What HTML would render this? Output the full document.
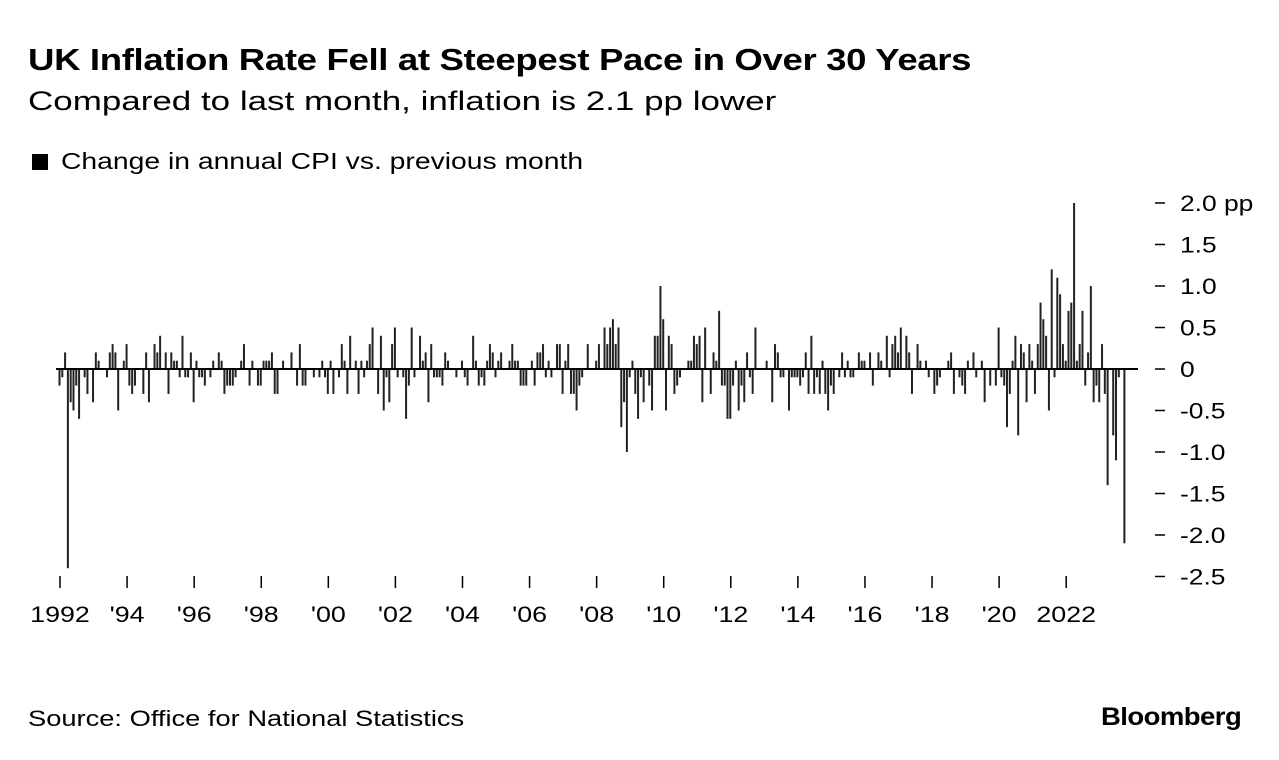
<!DOCTYPE html>
<html><head><meta charset="utf-8"><style>
body{margin:0;background:#fff;font-family:"Liberation Sans",sans-serif;color:#000}
#c{position:relative;width:1279px;height:760px;overflow:hidden}
.t{position:absolute;white-space:nowrap;transform-origin:0 0}
</style></head><body>
<div id="c">
<div class="t" style="left:28px;top:42px;font-size:31px;font-weight:bold;letter-spacing:-0.3px;transform:scaleX(1.18)">UK Inflation Rate Fell at Steepest Pace in Over 30 Years</div>
<div class="t" style="left:28px;top:86px;font-size:27px;transform:scaleX(1.295)">Compared to last month, inflation is 2.1 pp lower</div>
<div class="t" style="left:32px;top:148px;font-size:23px"><span style="display:inline-block;width:16px;height:16px;background:#000;margin-right:13px;vertical-align:-1px"></span><span style="display:inline-block;transform:scaleX(1.23);transform-origin:0 0">Change in annual CPI vs. previous month</span></div>
<svg id="s" width="1279" height="760" style="position:absolute;left:0;top:0"></svg>
<div class="t" style="left:28px;top:706px;font-size:22px;transform:scaleX(1.24)">Source: Office for National Statistics</div>
<div class="t" style="left:1101px;top:703px;font-size:25px;font-weight:bold;letter-spacing:-0.5px;transform:scaleX(1.1)">Bloomberg</div>
</div>
<script>
const startYear = 1992;
const values = [
-.2,-.1,.2,-2.4,-.4,-.5,-.2,-.6,0,-.1,-.3,0,
-.4,.2,.1,0,0,-.1,.2,.3,.2,-.5,0,.1,
.3,-.2,-.3,-.2,0,0,-.3,.2,-.4,0,.3,.2,
.4,0,.2,-.3,.2,.1,.1,-.1,.4,-.1,-.1,.2,
-.4,.1,-.1,-.1,-.2,0,-.1,.1,0,.2,.1,-.3,
-.2,-.2,-.2,-.1,0,.1,.3,0,-.2,.1,0,-.2,
-.2,.1,.1,.1,.2,-.3,-.3,0,.1,0,0,.2,
0,-.2,.3,-.2,-.2,0,0,-.1,0,-.1,.1,-.1,
-.3,.1,-.3,0,-.1,.3,.1,-.3,.4,0,.1,-.3,
.1,-.1,.1,.3,.5,0,-.3,.4,-.5,-.1,-.4,.3,
.5,-.1,0,-.1,-.6,-.2,.5,-.1,0,.4,.1,.2,
-.4,.3,-.1,-.1,-.1,-.2,.2,.1,0,0,-.1,0,
.1,-.1,-.2,0,.4,.1,-.2,-.1,-.2,.1,.3,.2,
-.1,.1,.2,0,0,.1,.3,.1,.1,-.2,-.2,-.2,
0,.1,-.2,.2,.2,.3,-.1,.1,-.1,0,.3,.3,
-.3,.1,.3,-.3,-.3,-.5,-.2,-.1,0,.3,0,0,
.1,.3,0,.5,.3,.5,.6,.3,.5,-.7,-.4,-1.0,
-.1,.1,-.3,-.6,-.1,-.4,0,-.2,-.5,.4,.4,1.0,
.6,-.5,.4,.3,-.3,-.2,-.1,0,0,.1,.1,.4,
.3,.4,-.4,.5,0,-.3,.2,.1,.7,-.2,-.2,-.6,
-.6,-.2,.1,-.5,-.2,-.4,.2,-.1,-.3,.5,0,0,
0,.1,0,-.4,.3,.2,-.1,-.1,0,-.5,-.1,-.1,
-.1,-.2,-.1,.2,-.3,.4,-.3,-.1,-.3,.1,-.3,-.5,
-.2,-.3,0,-.1,.2,-.1,.1,-.1,-.1,0,.2,.1,
.1,0,.2,-.2,0,.2,.1,0,.4,-.1,.3,.4,
.2,.5,0,.4,.2,-.3,0,.3,.1,0,.1,-.1,
0,-.3,-.2,-.1,0,0,.1,.2,-.3,0,-.1,-.2,
-.3,.1,0,.2,-.1,0,.1,-.4,0,-.2,0,-.2,
.5,-.1,-.2,-.7,-.3,.1,.4,-.8,.3,.2,-.4,.3,
.1,-.3,.3,.8,.6,.4,-.5,1.2,-.1,1.1,.9,.3,
.1,.7,.8,2.0,.1,.3,.7,-.2,.2,1.0,-.4,-.2,
-.4,.3,-.3,-1.4,0,-.8,-1.1,-.1,0,-2.1
];
const yTicks = [2.0,1.5,1.0,0.5,0,-0.5,-1.0,-1.5,-2.0,-2.5];
const yTickLabels = ["2.0 pp","1.5","1.0","0.5","0","-0.5","-1.0","-1.5","-2.0","-2.5"];
const xTickYears = [1992,1994,1996,1998,2000,2002,2004,2006,2008,2010,2012,2014,2016,2018,2020,2022];
const xTickLabels = ["1992","'94","'96","'98","'00","'02","'04","'06","'08","'10","'12","'14","'16","'18","'20","2022"];

const NS="http://www.w3.org/2000/svg";
const svg=document.getElementById('s');
function xS(i){return 59.5+i*2.795;}
function yS(v){return 369-v*83;}
function mk(t,a){const e=document.createElementNS(NS,t);for(const k in a)e.setAttribute(k,a[k]);svg.appendChild(e);return e;}

values.forEach((v,i)=>{
  if(v===0)return;
  const y0=yS(0),y1=yS(v);
  const b=mk('rect',{x:xS(i)-1,y:Math.min(y0,y1),width:2,height:Math.abs(y1-y0),fill:'#222'});
  
  
});
const zl=mk('line',{x1:56,x2:1138,y1:yS(0),y2:yS(0),stroke:'#000','stroke-width':2});



yTicks.forEach((v,k)=>{
  const y=yS(v);
  const tk=mk('line',{x1:1155,x2:1165,y1:y,y2:y,stroke:'#000','stroke-width':1.5});
  
  
  const tx=mk('text',{x:0,y:0,transform:'translate(1180,'+(y+8)+') scale(1.2,1)','font-size':22,'font-family':'Liberation Sans, sans-serif',fill:'#000'});
  tx.textContent=yTickLabels[k];
  
  
});
xTickYears.forEach((yr,k)=>{
  const x=xS((yr-startYear)*12)+0.5;
  const tk=mk('line',{x1:x,x2:x,y1:576,y2:588,stroke:'#000','stroke-width':1.5});
  
  
  const tx=mk('text',{x:0,y:0,transform:'translate('+x+',622) scale(1.22,1)','font-size':22,'text-anchor':'middle','font-family':'Liberation Sans, sans-serif',fill:'#000'});
  tx.textContent=xTickLabels[k];
  
  
});
</script>
</body></html>
